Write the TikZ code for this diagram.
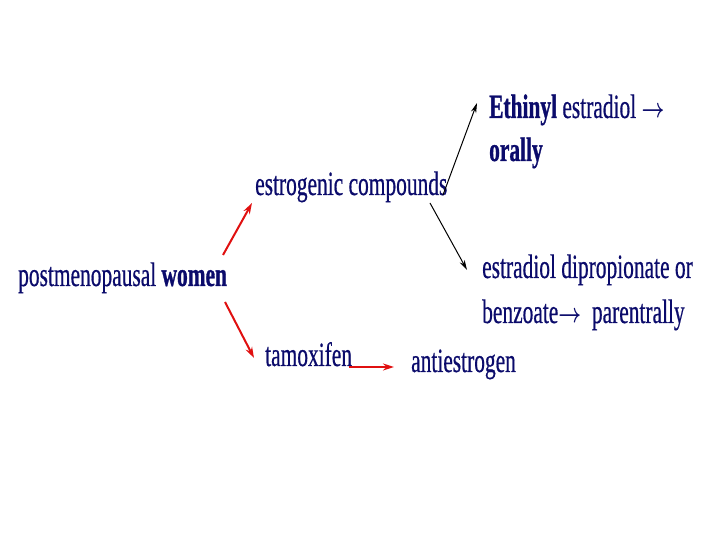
\documentclass[tikz,border=0pt]{standalone}
\usepackage{fontspec}
\usepackage{graphicx}
\setmainfont[FakeStretch=0.63,UprightFeatures={FakeBold=0.5},BoldFeatures={FakeBold=0.8}]{Liberation Serif}
\usetikzlibrary{arrows.meta}
\definecolor{navy}{HTML}{0B0B6B}
\definecolor{arrred}{HTML}{E01010}
\newcommand{\txtarr}{\scalebox{0.8}[1.1]{$\boldsymbol{\rightarrow}$}}
\tikzset{
  lbl/.style={anchor=base west, inner sep=0pt, text=navy, font=\fontsize{34}{40}\selectfont},
  redarr/.style={draw=arrred, line width=2pt, -{Stealth[length=11pt,width=7pt]}},
  blkarr/.style={draw=black, line width=1pt, -{Stealth[length=10pt,width=5.5pt]}}
}
\usepackage{amsmath}
\begin{document}
\begin{tikzpicture}[x=1pt,y=1pt]
\useasboundingbox (0,0) rectangle (720,540);
\node[lbl] (women) at (18,254) {postmenopausal \textbf{women}};
\node[lbl] (estro) at (255,345) {estrogenic compounds};
\node[lbl] (ethinyl) at (489,422) {\textbf{Ethinyl} estradiol \txtarr};
\node[lbl] (orally) at (489,379) {\textbf{orally}};
\node[lbl] (dipro) at (482,262) {estradiol dipropionate or};
\node[lbl] (benzo) at (482,217) {benzoate\txtarr\ \ parentrally};
\node[lbl] (tamox) at (265,174) {tamoxifen};
\node[lbl] (anti) at (411,168) {antiestrogen};
\coordinate (r1s) at (223,285);
\coordinate (r1e) at (252,337);
\coordinate (r2s) at (225,238);
\coordinate (r2e) at (254,182);
\coordinate (r3s) at (349,173);
\coordinate (r3e) at (394,173);
\coordinate (b1s) at (443,345);
\coordinate (b1e) at (477,437);
\coordinate (b2s) at (430,337);
\coordinate (b2e) at (467,270);
\draw[redarr] (r1s) -- (r1e);
\draw[redarr] (r2s) -- (r2e);
\draw[redarr] (r3s) -- (r3e);
\draw[blkarr] (b1s) -- (b1e);
\draw[blkarr] (b2s) -- (b2e);
\end{tikzpicture}
\end{document}
